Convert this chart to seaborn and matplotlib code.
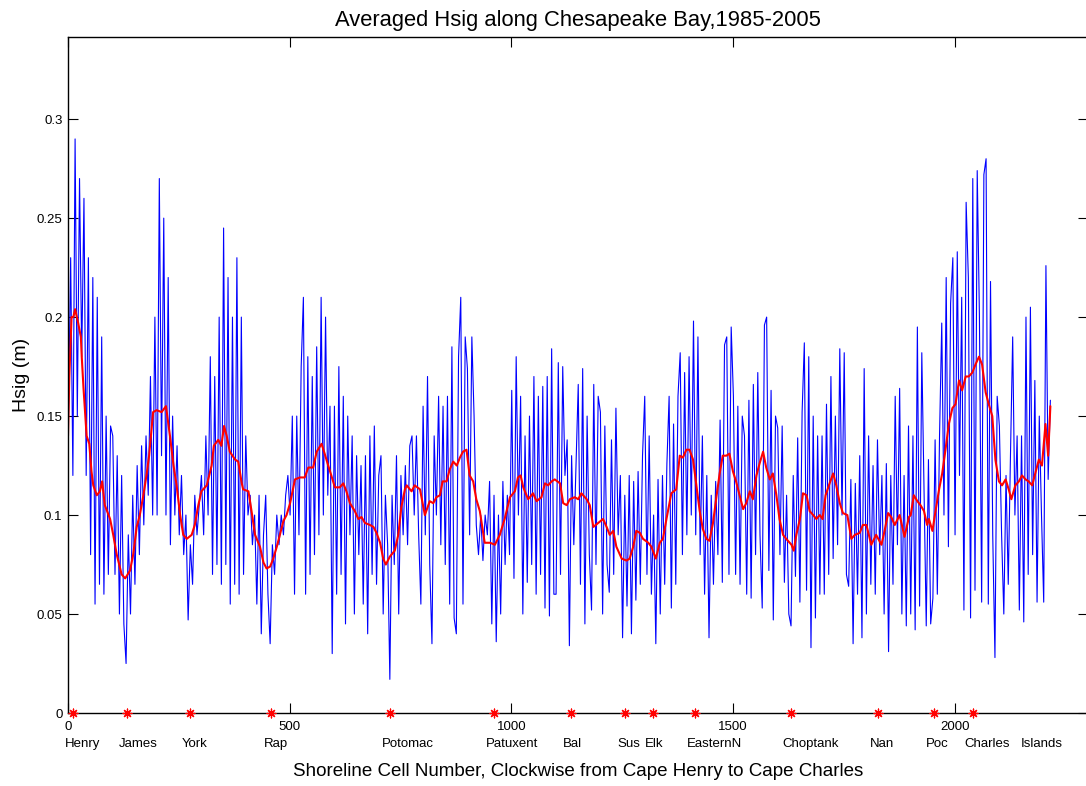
import numpy as np
import pandas as pd
import matplotlib
matplotlib.use("Agg")
import matplotlib.pyplot as plt
import seaborn as sns

# Averaged Hsig (m) per shoreline cell, one value every 5th cell starting at cell 1
cell_step = 5
hsig = [
    # cells 1-96
    0.15, 0.23, 0.12, 0.29, 0.15, 0.27, 0.18, 0.26, 0.12, 0.23, 0.08, 0.22, 0.055, 0.21, 0.065, 0.19, 0.06, 0.15, 0.07, 0.145,
    # 101-196
    0.14, 0.07, 0.13, 0.05, 0.12, 0.045, 0.025, 0.09, 0.05, 0.11, 0.065, 0.125, 0.08, 0.135, 0.095, 0.14, 0.11, 0.17, 0.1, 0.2,
    # 201-296
    0.1, 0.27, 0.13, 0.25, 0.1, 0.22, 0.085, 0.15, 0.1, 0.135, 0.09, 0.12, 0.08, 0.1, 0.047, 0.085, 0.065, 0.11, 0.09, 0.105,
    # 301-396
    0.12, 0.09, 0.14, 0.1, 0.18, 0.07, 0.17, 0.075, 0.2, 0.065, 0.245, 0.075, 0.22, 0.055, 0.2, 0.065, 0.23, 0.06, 0.2, 0.07,
    # 401-496
    0.14, 0.1, 0.11, 0.085, 0.1, 0.055, 0.11, 0.04, 0.09, 0.11, 0.06, 0.035, 0.085, 0.07, 0.1, 0.085, 0.1, 0.09, 0.11, 0.12,
    # 501-596
    0.1, 0.15, 0.06, 0.15, 0.09, 0.175, 0.21, 0.06, 0.18, 0.07, 0.17, 0.08, 0.185, 0.09, 0.21, 0.1, 0.2, 0.11, 0.155, 0.03,
    # 601-696
    0.155, 0.06, 0.175, 0.07, 0.16, 0.045, 0.15, 0.09, 0.14, 0.05, 0.13, 0.08, 0.125, 0.055, 0.13, 0.04, 0.14, 0.07, 0.145, 0.065,
    # 701-796
    0.12, 0.13, 0.05, 0.11, 0.085, 0.017, 0.11, 0.075, 0.13, 0.05, 0.12, 0.09, 0.125, 0.085, 0.135, 0.14, 0.1, 0.14, 0.09, 0.055,
    # 801-896
    0.155, 0.09, 0.17, 0.075, 0.035, 0.14, 0.1, 0.16, 0.085, 0.155, 0.075, 0.16, 0.055, 0.185, 0.048, 0.04, 0.18, 0.21, 0.055, 0.19,
    # 901-996
    0.174, 0.09, 0.19, 0.15, 0.095, 0.08, 0.1, 0.077, 0.1, 0.09, 0.117, 0.045, 0.11, 0.036, 0.1, 0.05, 0.117, 0.075, 0.11, 0.08,
    # 1001-1096
    0.163, 0.068, 0.18, 0.1, 0.16, 0.05, 0.14, 0.066, 0.15, 0.075, 0.17, 0.06, 0.16, 0.07, 0.165, 0.053, 0.17, 0.049, 0.184, 0.06,
    # 1101-1196
    0.06, 0.177, 0.07, 0.175, 0.12, 0.138, 0.034, 0.13, 0.085, 0.125, 0.166, 0.065, 0.174, 0.045, 0.15, 0.08, 0.052, 0.166, 0.075, 0.16,
    # 1201-1296
    0.152, 0.05, 0.145, 0.075, 0.061, 0.138, 0.07, 0.154, 0.09, 0.12, 0.038, 0.11, 0.054, 0.12, 0.04, 0.117, 0.057, 0.122, 0.065, 0.13,
    # 1301-1396
    0.16, 0.07, 0.14, 0.06, 0.1, 0.035, 0.118, 0.05, 0.12, 0.065, 0.126, 0.16, 0.053, 0.146, 0.065, 0.16, 0.182, 0.08, 0.172, 0.09,
    # 1401-1496
    0.18, 0.1, 0.198, 0.09, 0.19, 0.08, 0.14, 0.06, 0.12, 0.038, 0.11, 0.065, 0.117, 0.08, 0.148, 0.066, 0.186, 0.19, 0.07, 0.195,
    # 1501-1596
    0.16, 0.07, 0.155, 0.065, 0.15, 0.14, 0.06, 0.158, 0.058, 0.166, 0.08, 0.172, 0.09, 0.053, 0.196, 0.2, 0.072, 0.163, 0.047, 0.15,
    # 1601-1696
    0.144, 0.08, 0.145, 0.066, 0.11, 0.05, 0.044, 0.12, 0.069, 0.139, 0.056, 0.152, 0.187, 0.062, 0.18, 0.033, 0.15, 0.048, 0.14, 0.06,
    # 1701-1796
    0.14, 0.06, 0.156, 0.07, 0.17, 0.078, 0.15, 0.085, 0.184, 0.1, 0.182, 0.07, 0.064, 0.118, 0.035, 0.116, 0.06, 0.13, 0.038, 0.174,
    # 1801-1896
    0.05, 0.14, 0.065, 0.125, 0.06, 0.138, 0.08, 0.12, 0.05, 0.126, 0.031, 0.12, 0.065, 0.16, 0.085, 0.164, 0.05, 0.12, 0.044, 0.145,
    # 1901-1996
    0.05, 0.14, 0.042, 0.195, 0.054, 0.182, 0.113, 0.044, 0.128, 0.045, 0.058, 0.138, 0.06, 0.14, 0.197, 0.1, 0.22, 0.084, 0.207, 0.23,
    # 2001-2096
    0.09, 0.233, 0.12, 0.21, 0.052, 0.258, 0.22, 0.048, 0.27, 0.062, 0.274, 0.2, 0.056, 0.272, 0.28, 0.055, 0.218, 0.09, 0.028, 0.16,
    # 2101-2196
    0.145, 0.09, 0.05, 0.12, 0.065, 0.13, 0.19, 0.1, 0.14, 0.052, 0.14, 0.046, 0.2, 0.07, 0.205, 0.08, 0.168, 0.056, 0.15, 0.1,
    # 2201-2216
    0.056, 0.226, 0.118, 0.158,
]

# Smoothed (running-mean) Hsig along the shoreline
smooth_cells = [
    0, 3, 8, 12, 16, 23, 29, 31, 35, 42, 48, 53, 57, 65, 72, 77, 83, 95, 102, 110,
    121, 129, 140, 147, 155, 162, 170, 177, 183, 192, 200, 211, 221, 230, 238, 245, 253, 260, 268, 279,
    286, 294, 301, 313, 324, 329, 339, 346, 352, 358, 365, 377, 384, 392, 395, 407, 414, 422, 433, 441,
    448, 456, 463, 471, 478, 486, 493, 501, 512, 523, 534, 542, 553, 561, 572, 579, 587, 594, 602, 613,
    621, 628, 636, 647, 655, 662, 670, 681, 689, 696, 704, 711, 717, 726, 737, 745, 752, 760, 764, 775,
    782, 794, 805, 816, 824, 831, 839, 845, 854, 861, 869, 877, 884, 891, 899, 906, 914, 921, 929, 940,
    952, 963, 974, 985, 997, 1008, 1015, 1021, 1027, 1038, 1049, 1057, 1068, 1076, 1083, 1091, 1098, 1110, 1117, 1125,
    1132, 1143, 1151, 1158, 1170, 1177, 1185, 1196, 1207, 1215, 1222, 1230, 1237, 1249, 1260, 1267, 1275, 1282, 1290, 1297,
    1309, 1316, 1326, 1335, 1342, 1350, 1361, 1372, 1380, 1387, 1395, 1402, 1410, 1417, 1425, 1432, 1440, 1447, 1455, 1462,
    1470, 1477, 1485, 1492, 1500, 1507, 1515, 1523, 1530, 1538, 1545, 1553, 1560, 1568, 1575, 1583, 1590, 1598, 1605, 1613,
    1620, 1632, 1637, 1643, 1651, 1658, 1666, 1673, 1681, 1688, 1696, 1702, 1709, 1718, 1726, 1733, 1741, 1748, 1758, 1767,
    1775, 1786, 1793, 1801, 1812, 1823, 1835, 1842, 1850, 1857, 1865, 1876, 1887, 1897, 1901, 1908, 1916, 1923, 1931, 1938,
    1942, 1950, 1957, 1965, 1972, 1980, 1987, 1995, 2002, 2010, 2017, 2025, 2032, 2040, 2047, 2055, 2062, 2070, 2077, 2085,
    2092, 2100, 2107, 2115, 2122, 2128, 2137, 2145, 2152, 2160, 2167, 2175, 2182, 2190, 2197, 2205, 2211, 2216,
]
smooth_hsig = [
    0.14, 0.17, 0.2, 0.2, 0.204, 0.197, 0.19, 0.18, 0.164, 0.14, 0.136, 0.122, 0.115, 0.11, 0.112, 0.117, 0.105, 0.098, 0.09, 0.08,
    0.07, 0.068, 0.072, 0.08, 0.094, 0.1, 0.11, 0.12, 0.13, 0.152, 0.153, 0.152, 0.155, 0.14, 0.125, 0.115, 0.1, 0.09, 0.088, 0.09,
    0.095, 0.105, 0.112, 0.115, 0.125, 0.135, 0.138, 0.135, 0.145, 0.14, 0.132, 0.128, 0.127, 0.116, 0.113, 0.112, 0.102, 0.09, 0.084, 0.076,
    0.073, 0.074, 0.078, 0.084, 0.09, 0.097, 0.1, 0.106, 0.118, 0.119, 0.119, 0.124, 0.124, 0.132, 0.136, 0.131, 0.125, 0.12, 0.114, 0.114,
    0.116, 0.112, 0.106, 0.102, 0.098, 0.099, 0.096, 0.095, 0.094, 0.091, 0.086, 0.078, 0.075, 0.079, 0.082, 0.09, 0.104, 0.113, 0.115, 0.112,
    0.115, 0.113, 0.1, 0.107, 0.106, 0.109, 0.11, 0.117, 0.117, 0.123, 0.127, 0.125, 0.129, 0.132, 0.133, 0.12, 0.117, 0.108, 0.102, 0.086,
    0.086, 0.085, 0.09, 0.098, 0.109, 0.112, 0.119, 0.12, 0.114, 0.108, 0.111, 0.107, 0.109, 0.116, 0.115, 0.117, 0.118, 0.116, 0.106, 0.105,
    0.108, 0.109, 0.108, 0.111, 0.108, 0.105, 0.094, 0.096, 0.098, 0.094, 0.09, 0.092, 0.084, 0.078, 0.077, 0.078, 0.084, 0.092, 0.091, 0.088,
    0.086, 0.084, 0.078, 0.086, 0.088, 0.098, 0.111, 0.113, 0.13, 0.129, 0.133, 0.133, 0.128, 0.116, 0.102, 0.093, 0.088, 0.087, 0.096, 0.108,
    0.121, 0.13, 0.13, 0.131, 0.122, 0.117, 0.11, 0.103, 0.106, 0.112, 0.108, 0.12, 0.126, 0.132, 0.124, 0.118, 0.121, 0.11, 0.098, 0.09,
    0.088, 0.085, 0.082, 0.09, 0.098, 0.111, 0.11, 0.102, 0.1, 0.098, 0.1, 0.098, 0.11, 0.116, 0.121, 0.115, 0.106, 0.101, 0.1, 0.088,
    0.09, 0.091, 0.095, 0.095, 0.085, 0.09, 0.085, 0.092, 0.101, 0.099, 0.095, 0.1, 0.089, 0.099, 0.1, 0.11, 0.107, 0.105, 0.102, 0.095,
    0.098, 0.092, 0.102, 0.113, 0.121, 0.134, 0.146, 0.154, 0.156, 0.168, 0.163, 0.17, 0.17, 0.172, 0.176, 0.18, 0.176, 0.162, 0.156, 0.15,
    0.128, 0.117, 0.115, 0.118, 0.113, 0.108, 0.115, 0.117, 0.12, 0.118, 0.117, 0.115, 0.121, 0.128, 0.125, 0.146, 0.13, 0.155,
]

# River mouths / landmarks along the shoreline (Islands carries no marker)
landmark_names = ["Henry", "James", "York", "Rap", "Potomac", "Patuxent", "Bal", "Sus", "Elk",
                  "EasternN", "Choptank", "Nan", "Poc", "Charles", "Islands"]
landmark_cells = [12, 133, 275, 459, 726, 960, 1135, 1257, 1320, 1415, 1630, 1827, 1953, 2041, 2168]
marked = [True] * 14 + [False]

x_ticks = [0, 500, 1000, 1500, 2000]
y_ticks = [0, 0.05, 0.1, 0.15, 0.2, 0.25, 0.3]

sns.set_theme(style="white")
plt.rcParams["font.family"] = ["Liberation Sans", "DejaVu Sans"]

W, H = 1086, 786
fig = plt.figure(figsize=(W / 100, H / 100), dpi=100)
fig.patch.set_facecolor("white")
ax = fig.add_axes([68 / W, 73 / H, 1019.6 / W, 676 / H])

raw = pd.DataFrame({"cell": 1 + cell_step * np.arange(len(hsig)), "hsig": hsig})
smooth = pd.DataFrame({"cell": smooth_cells, "hsig": smooth_hsig})
marks = pd.DataFrame({"cell": [c for c, m in zip(landmark_cells, marked) if m]})
marks["hsig"] = 0.0

sns.lineplot(data=raw, x="cell", y="hsig", ax=ax, color="#0000ff", linewidth=0.8,
             estimator=None, sort=False)
sns.lineplot(data=smooth, x="cell", y="hsig", ax=ax, color="#ff0000", linewidth=1.5,
             estimator=None, sort=False)
sns.scatterplot(data=marks, x="cell", y="hsig", ax=ax, marker=(8, 2, 0), s=40,
                color="#ff0000", edgecolor="#ff0000", linewidth=0.9, clip_on=False, zorder=6)

ax.set_xlim(0, 2300)
ax.set_ylim(0, 0.3415)
ax.set_xticks(x_ticks)
ax.set_xticklabels([str(t) for t in x_ticks])
ax.set_yticks(y_ticks)
ax.set_yticklabels(["0", "0.05", "0.1", "0.15", "0.2", "0.25", "0.3"])
ax.tick_params(axis="both", which="major", direction="in", length=7, width=0.8,
               top=True, right=True, bottom=True, left=True, labelsize=9.5,
               colors="black")
ax.tick_params(axis="x", pad=5.5)
ax.tick_params(axis="y", pad=4)
for s in ax.spines.values():
    s.set_visible(True)
    s.set_color("black")
    s.set_linewidth(1.0)

for name, cell in zip(landmark_names, landmark_cells):
    ax.annotate(name, xy=(cell, 0), xycoords=("data", "axes fraction"),
                xytext=(-8, -31), textcoords="offset pixels",
                ha="left", va="center", fontsize=9.5, color="black")

ax.set_xlabel("Shoreline Cell Number, Clockwise from Cape Henry to Cape Charles",
              fontsize=13.5, color="black", labelpad=22)
ax.set_ylabel("Hsig (m)", fontsize=14, color="black", labelpad=5)
ax.set_title("Averaged Hsig along Chesapeake Bay,1985-2005", fontsize=15.8,
             color="black", pad=8)

fig.savefig("out.png", dpi=100, facecolor="white")
